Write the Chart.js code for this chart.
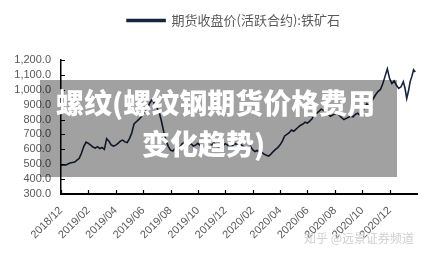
<!DOCTYPE html>
<html lang="zh">
<head>
<meta charset="UTF-8">
<title>期货收盘价(活跃合约):铁矿石</title>
<script src="https://cdn.jsdelivr.net/npm/chart.js"></script>
<style>
  body { margin: 0; background: #fff; }
  .wrap { position: relative; width: 438px; height: 257px; }
  .cover {
    position: absolute; left: 40px; top: 80px; width: 357px; height: 97px;
    background: rgba(0, 0, 0, 0.37);
  }
  .cover .l1, .cover .l2 {
    position: absolute; color: #fff; font-family: "Noto Sans CJK SC", sans-serif;
    font-weight: 900; font-size: 28px; line-height: 30px; white-space: nowrap;
  }
  .cover .l1 { left: 16px; top: 7px; }
  .cover .l2 { left: 102px; top: 48px; }
  .mark {
    position: absolute; left: 304px; top: 229px; color: #cfcfcf;
    font-family: "Noto Sans CJK SC", sans-serif; font-size: 12px;
  }
</style>
</head>
<body>
<div class="wrap">
  <canvas id="grafico" width="438" height="257"></canvas>
  <div class="cover">
    <div class="l1">螺纹(螺纹钢期货价格费用</div>
    <div class="l2">变化趋势)</div>
  </div>
  <div class="mark">知乎 @远景证券频道</div>
</div>
<script>
// tick labels, every 2 months starting 2018/12
const rotulos = ['2018/12','2019/02','2019/04','2019/06','2019/08','2019/10','2019/12',
                 '2020/02','2020/04','2020/06','2020/08','2020/10','2020/12'];

// closing prices, one row per month from 2018/12
const precos = [
  [490, 496, 494, 502, 508, 512],
  [515, 528, 540, 575, 620, 648],
  [640, 628, 615, 608, 618, 605],
  [612, 600, 672, 655, 630, 622],
  [628, 640, 655, 662, 650, 645],
  [672, 710, 770, 785, 800, 815],
  [838, 850, 880, 915, 935, 905],
  [880, 850, 790, 720, 660, 620],
  [595, 588, 605, 625, 610, 635],
  [648, 640, 630, 638, 622, 628],
  [640, 625, 618, 630, 612, 622],
  [630, 642, 628, 618, 632, 625],
  [638, 628, 615, 622, 640, 632],
  [624, 630, 618, 605, 612, 620],
  [598, 585, 592, 578, 580, 568],
  [560, 555, 568, 585, 600, 612],
  [630, 655, 690, 700, 712, 730],
  [722, 735, 750, 762, 770, 782],
  [776, 790, 805, 836, 842, 855],
  [870, 862, 850, 838, 822, 830],
  [838, 845, 828, 812, 800, 808],
  [815, 823, 818, 835, 842, 830],
  [850, 880, 905, 895, 920, 945],
  [970, 990, 1002, 1040, 1090, 1141],
  [1075, 1042, 1060, 1030, 1009, 1020],
  [1055, 1010, 942, 990, 1055, 1090, 1134, 1120]
];

const pontos = [];
precos.forEach((mes, m) => {
  mes.forEach((v, j) => pontos.push({ x: m + j / mes.length, y: v }));
});

// tick marks pointing into the plot
const marcas = {
  id: 'marcas',
  afterDraw(chart) {
    const ctx = chart.ctx;
    const xs = chart.scales.x, ys = chart.scales.y;
    ctx.save();
    ctx.strokeStyle = '#000';
    ctx.lineWidth = 1.2;
    ctx.beginPath();
    ys.ticks.forEach(t => {
      const y = Math.round(ys.getPixelForValue(t.value)) + 0.5;
      ctx.moveTo(xs.left, y); ctx.lineTo(xs.left + 4, y);
    });
    xs.ticks.forEach(t => {
      const x = Math.round(xs.getPixelForValue(t.value)) + 0.5;
      ctx.moveTo(x, ys.bottom); ctx.lineTo(x, ys.bottom - 4);
    });
    ctx.stroke();
    ctx.restore();
  }
};

const espacoLegenda = {
  id: 'espacoLegenda',
  beforeInit(chart) {
    const fit = chart.legend.fit;
    chart.legend.fit = function () { fit.bind(chart.legend)(); this.height += 23; };
  },
  afterUpdate(chart) {
    chart.legend.left += 25;
    chart.legend.right += 25;
  }
};

new Chart(document.getElementById('grafico').getContext('2d'), {
  type: 'line',
  data: {
    datasets: [{
      label: '期货收盘价(活跃合约):铁矿石',
      data: pontos,
      borderColor: '#17243f',
      backgroundColor: '#17243f',
      borderWidth: 1.6,
      pointRadius: 0,
      tension: 0
    }]
  },
  options: {
    responsive: false,
    animation: false,
    layout: { padding: { top: 6, right: 21, left: 0, bottom: 0 } },
    plugins: {
      tooltip: { enabled: false },
      legend: {
        position: 'top',
        labels: {
          boxWidth: 38,
          boxHeight: 2,
          color: '#595959',
          padding: 8,
          font: { family: '"Noto Sans CJK SC", sans-serif', size: 13 }
        }
      }
    },
    scales: {
      x: {
        type: 'linear',
        min: 0,
        max: 26,
        afterBuildTicks(s) {
          s.ticks = rotulos.map((r, i) => ({ value: i * 2 }));
        },
        afterFit(s) { s.height = 63; },
        ticks: {
          autoSkip: false,
          minRotation: 45,
          maxRotation: 45,
          padding: 10,
          color: '#595959',
          font: { family: '"Liberation Sans", sans-serif', size: 11 },
          callback: v => rotulos[v / 2]
        },
        grid: { drawOnChartArea: false, drawTicks: false },
        border: { color: '#000', width: 2 }
      },
      y: {
        min: 300,
        max: 1200,
        afterFit(s) { s.width = 61; },
        ticks: {
          autoSkip: false,
          stepSize: 100,
          padding: 10,
          color: '#595959',
          font: { family: '"Liberation Sans", sans-serif', size: 11 },
          callback: v => v.toLocaleString('en-US', { minimumFractionDigits: 1, maximumFractionDigits: 1 })
        },
        grid: { drawOnChartArea: false, drawTicks: false },
        border: { color: '#000', width: 1.5 }
      }
    }
  },
  plugins: [marcas, espacoLegenda]
});
</script>
</body>
</html>
